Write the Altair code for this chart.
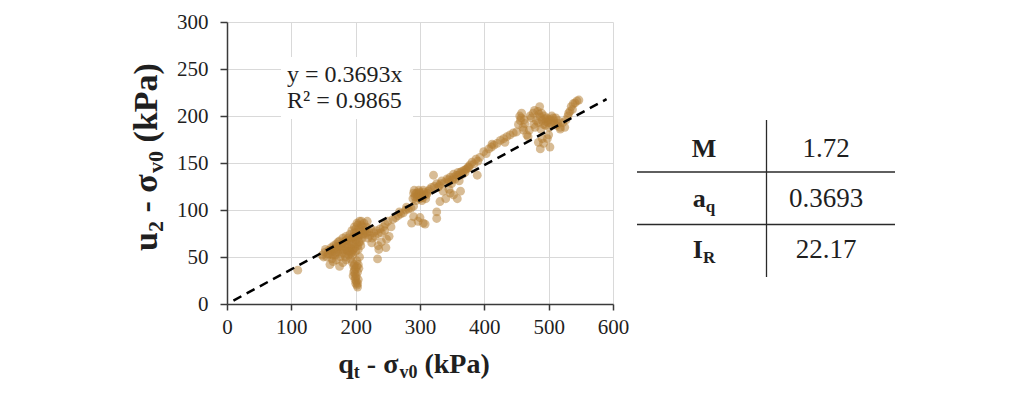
import altair as alt
import pandas as pd

# ---------------- data ----------------
q_iso = [110]
u_iso = [36]

q_blob = [148, 152, 155, 158, 160, 162, 163, 165, 166, 168,
          170, 170, 172, 174, 175, 176, 178, 179, 180, 181,
          183, 184, 185, 186, 187, 188, 189, 190, 191, 192,
          193, 194, 195, 196, 197, 198, 199, 200, 201, 202,
          203, 204, 205, 206, 207, 208, 209, 210, 212, 213,
          215, 216, 218, 219, 220, 222, 224, 226, 228, 230,
          232, 235, 238, 240, 243, 246, 250, 225, 235,
          150, 153, 157, 161, 164, 167, 169, 171, 173, 177,
          182, 182, 186, 189, 191, 194, 196, 198, 200, 201,
          203, 205, 207, 209, 211, 214, 217, 211, 199, 205,
          193, 188, 178, 184, 196, 200, 204, 208]
u_blob = [52, 55, 50, 57, 53, 60, 48, 56, 62, 52,
          58, 64, 55, 61, 67, 50, 58, 64, 70, 54,
          61, 67, 72, 57, 63, 70, 52, 66, 74, 60,
          69, 78, 56, 64, 72, 82, 60, 68, 76, 86,
          62, 71, 80, 88, 66, 74, 84, 70, 78, 86,
          74, 82, 88, 70, 77, 73, 80, 70, 76, 72,
          78, 75, 80, 76, 82, 85, 88, 65, 62,
          50, 58, 53, 57, 52, 59, 55, 61, 66, 62,
          58, 66, 68, 60, 56, 64, 70, 76, 80, 64,
          84, 74, 78, 88, 82, 78, 76, 74, 72, 66,
          54, 56, 54, 50, 58, 56, 58, 62]

q_bottom = [160, 165, 175, 180, 185, 170]
u_bottom = [42, 45, 40, 44, 47, 47]

q_tail = [192, 195, 197, 198, 199, 200, 201, 202, 203, 200, 196, 204, 203, 198, 205, 195, 202, 206,
          199, 201, 203, 197, 200, 204, 202]
u_tail = [48, 44, 40, 36, 32, 28, 24, 20, 18, 22, 30, 26, 34, 42, 38, 52, 46, 50,
          26, 30, 22, 34, 38, 42, 40]

q_right = [236, 234, 248, 247, 252, 240, 255, 245]
u_right = [58, 48, 69, 60, 72, 66, 82, 78]

q_line = [258, 262, 266, 270, 274, 278, 282, 286, 290, 268, 279]
u_line = [90, 92, 94, 96, 97, 100, 101, 102, 104, 98, 103]

q_300 = [289, 290, 291, 292, 294, 295, 297, 298, 300, 301, 303, 305, 307, 309, 311, 313, 315, 318,
         293, 296, 299, 302, 306, 310, 304,
         287, 290, 297, 305, 308, 300]
u_300 = [112, 118, 121, 114, 110, 118, 116, 121, 112, 118, 110, 121, 116, 112, 118, 120, 122, 124,
         117, 113, 119, 115, 119, 116, 113,
         86, 93, 88, 86, 85, 92]

q_band = [321, 322, 326, 330, 334, 336, 338, 342, 345, 347, 349, 350, 352, 355, 357, 359, 361, 363,
          366, 368, 370, 373, 375, 378, 381, 384, 387, 389, 390, 393,
          328, 332, 344, 353, 360, 365, 371, 376,
          326, 326, 331, 347, 358, 352, 340, 363, 345]
u_band = [137, 125, 128, 126, 131, 120, 129, 133, 130, 135, 128, 132, 138, 133, 137, 140, 131, 140,
          138, 142, 140, 144, 146, 148, 151, 149, 154, 137, 152, 156,
          124, 128, 132, 135, 137, 141, 143, 145,
          91, 98, 109, 118, 112, 116, 112, 120, 122]

q_chain = [399, 403, 407, 411, 415, 420, 425, 430, 435, 440, 445, 450, 412, 432]
u_chain = [162, 160, 165, 167, 169, 171, 174, 176, 178, 180, 182, 183, 170, 172]

q_500 = [453, 455, 456, 458, 460, 461, 463, 466, 468, 470, 471, 473, 476, 477, 479, 481, 483, 484,
         486, 487, 488, 490, 492, 494, 495, 497, 499, 501, 503, 505, 507, 509, 512, 515, 518, 522,
         525, 527, 530,
         457, 462, 478, 485, 489, 493, 496, 500, 504, 508, 511, 514,
         484, 487, 490, 492, 502, 500, 498, 518,
         533, 535, 538, 541, 544, 547, 537, 531]
u_500 = [191, 200, 195, 203, 188, 185, 192, 180, 178, 185, 200, 198, 203, 191, 188, 195, 205, 193,
         210, 199, 186, 195, 191, 197, 190, 198, 193, 188, 196, 200, 198, 192, 190, 195, 188, 193,
         188, 196, 200,
         198, 196, 206, 202, 203, 200, 194, 196, 192, 195, 198, 192,
         172, 165, 176, 171, 167, 180, 176, 186,
         205, 210, 213, 214, 216, 217, 207, 203]

SLOPE = 0.3693
trend_q = [10, 590]
annot_lines = ["y = 0.3693x", "R\u00b2 = 0.9865"]

table_param = ["M", "a", "I"]
table_sub = ["", "q", "R"]
table_value = ["1.72", "0.3693", "22.17"]

# ---------------- layout ----------------
SERIF = "Liberation Serif"
TXT = "#1f1f1f"
OX, OY = 227, 22          # plot origin on the page
W, H = 386, 282


def px(x):
    return x - OX


def py(y):
    return y - OY


BW = {'q': 0.556, 't': 0.333, '-': 0.333, '\u03c3': 0.58, 'v': 0.5, '0': 0.5, '(': 0.333,
      'k': 0.556, 'P': 0.611, 'a': 0.5, ')': 0.333, 'u': 0.556, '2': 0.5, 'M': 0.944,
      'I': 0.389, 'R': 0.722, ' ': 0.25}


def seg_w(t, s):
    return sum(BW.get(c, 0.5) for c in t) * s


one = pd.DataFrame({"k": [0]})


def txt(t, x, y, size, bold=False, align="left", angle=0):
    kw = dict(font=SERIF, fontSize=size, align=align, baseline="alphabetic", color=TXT)
    if bold:
        kw["fontWeight"] = "bold"
    if angle:
        kw["angle"] = angle
    return alt.Chart(one).mark_text(**kw).encode(
        x=alt.value(px(x)), y=alt.value(py(y)), text=alt.value(t))


def hcompose(segs, cx, base):
    total = sum(seg_w(t, s) for t, s, d in segs)
    x = cx - total / 2
    out = []
    for t, s, d in segs:
        if t.strip():
            out.append(txt(t, x, base + d, s, bold=True))
        x += seg_w(t, s)
    return out


def vcompose(segs, bx, cy):
    total = sum(seg_w(t, s) for t, s, d in segs)
    y = cy + total / 2
    out = []
    for t, s, d in segs:
        if t.strip():
            out.append(txt(t, bx + d, y, s, bold=True, angle=270))
        y -= seg_w(t, s)
    return out


# ---------------- chart ----------------
pts = pd.DataFrame({
    "qt": q_iso + q_blob + q_bottom + q_tail + q_right + q_line + q_300 + q_band + q_chain + q_500,
    "u2": u_iso + u_blob + u_bottom + u_tail + u_right + u_line + u_300 + u_band + u_chain + u_500,
})
trend = pd.DataFrame({"qt": trend_q})

xax = alt.Axis(values=[0, 100, 200, 300, 400, 500, 600], title="", grid=True, gridColor="#d9d9d9",
               domainColor="#3a3a3a", domainWidth=1.5, tickColor="#3a3a3a", tickWidth=1.5,
               tickSize=6, labelFont=SERIF, labelFontSize=21, labelColor=TXT, labelPadding=6,
               labelFlush=False)
yax = alt.Axis(values=[0, 50, 100, 150, 200, 250, 300], title="", grid=True, gridColor="#d9d9d9",
               domainColor="#3a3a3a", domainWidth=1.5, tickColor="#3a3a3a", tickWidth=1.5,
               tickSize=7, labelFont=SERIF, labelFontSize=21, labelColor=TXT, labelPadding=12,
               labelFlush=False)

xs = alt.Scale(domain=[0, 600], nice=False)
ys = alt.Scale(domain=[0, 300], nice=False)

scatter = alt.Chart(pts).mark_circle(size=78, opacity=0.52, color="#B47F33").encode(
    x=alt.X("qt:Q", scale=xs, axis=xax),
    y=alt.Y("u2:Q", scale=ys, axis=yax),
)

line = alt.Chart(trend).transform_calculate(u2=f"{SLOPE} * datum.qt").mark_line(
    color="black", strokeWidth=2.5, strokeDash=[9, 6]).encode(
    x=alt.X("qt:Q", scale=xs), y=alt.Y("u2:Q", scale=ys))

box = alt.Chart(one).mark_rect(color="white").encode(
    x=alt.value(px(281)), x2=alt.value(px(413)), y=alt.value(py(57)), y2=alt.value(py(119)))

layers = [scatter, line, box]
for i, t in enumerate(annot_lines):
    layers.append(txt(t, 287, 82 + 26 * i, 24))

# axis titles
layers += hcompose([("q", 28, 0), ("t", 18, 5), (" ", 28, 0), ("-", 28, 0), (" ", 28, 0),
                    ("\u03c3", 28, 0), ("v0", 18, 5), (" ", 28, 0), ("(kPa)", 28, 0)], 414, 373)
layers += vcompose([("u", 34, 0), ("2", 22, 6), (" ", 34, 0), ("-", 34, 0), (" ", 34, 0),
                    ("\u03c3", 34, 0), ("v0", 22, 6), (" ", 34, 0), ("(kPa)", 34, 0)], 157, 157)

# table
row_base = [157, 207, 258]
for i in range(len(table_param)):
    segs = [(table_param[i], 26, 0)]
    if table_sub[i]:
        segs.append((table_sub[i], 17, 5))
    layers += hcompose(segs, 704, row_base[i])
    layers.append(txt(table_value[i], 826, row_base[i], 27, align="center"))

rule_col = "#2a2a2a"
layers.append(alt.Chart(one).mark_rule(color=rule_col, strokeWidth=1.3).encode(
    x=alt.value(px(766.5)), y=alt.value(py(120)), y2=alt.value(py(277))))
for yy in [172, 224.5]:
    layers.append(alt.Chart(one).mark_rule(color=rule_col, strokeWidth=1.3).encode(
        x=alt.value(px(637)), x2=alt.value(px(895)), y=alt.value(py(yy))))

chart = alt.layer(*layers).properties(
    width=W, height=H,
    autosize=alt.AutoSizeParams(type="none"),
    padding={"left": OX - 8, "top": OY - 8, "right": 400, "bottom": 90},
    background="white",
).configure_view(strokeWidth=0)

chart.save("out.html", embed_options={"renderer": "svg", "actions": False})
